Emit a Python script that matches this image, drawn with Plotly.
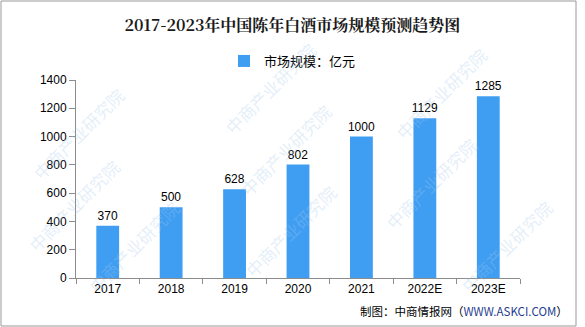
import plotly.graph_objects as go

# Market size of aged baijiu in China (100 million yuan), E = estimate
years = ["2017", "2018", "2019", "2020", "2021", "2022E", "2023E"]
market_size = [370, 500, 628, 802, 1000, 1129, 1285]
y_ticks = [0, 200, 400, 600, 800, 1000, 1200, 1400]

W, H = 585, 327
L, R, T, B = 76, 65, 80, 49
PW, PH = W - L - R, H - T - B

BAR_COLOR = "#409ef2"
AXIS_COLOR = "#8c8c8c"
TICK_FONT = dict(family="Liberation Sans, Arial, sans-serif", size=12, color="#000000")
CJK = "Noto Sans CJK SC, sans-serif"


def px_to_paper(px, py):
    return (px - L) / PW, (H - B - py) / PH


fig = go.Figure()
fig.add_trace(go.Bar(
    x=years,
    y=market_size,
    name="市场规模：亿元",
    marker=dict(color=BAR_COLOR, line=dict(width=0)),
    text=[str(v) for v in market_size],
    textposition="outside",
    constraintext="none",
    textfont=dict(family="Liberation Sans, Arial, sans-serif", size=12, color="#000000"),
    cliponaxis=False,
))

# Background brand marks, drawn diagonally across the canvas
wm_centers = [(270, 35), (495, 40), (25, 80), (285, 150), (485, 130),
              (20, 205), (290, 285), (80, 300), (560, 300)]
annotations = []
for cx, cy in wm_centers:
    xp, yp = px_to_paper(cx, cy)
    annotations.append(dict(
        x=xp, y=yp, xref="paper", yref="paper",
        text="中商产业研究院", showarrow=False, textangle=-45,
        font=dict(family=CJK, size=17, color="rgba(160,200,235,0.30)"),
    ))

# Source line
xp, yp = px_to_paper(570, 311)
annotations.append(dict(
    x=xp, y=yp, xref="paper", yref="paper", xanchor="right", yanchor="middle",
    text="制图：中商情报网（<span style='color:#1f3d8f'>WWW.ASKCI.COM</span>）",
    showarrow=False,
    font=dict(family=CJK, size=11.5, color="#000000"),
))

fig.update_layout(
    width=W, height=H,
    margin=dict(l=L, r=R, t=T, b=B, autoexpand=False),
    paper_bgcolor="#ffffff",
    plot_bgcolor="#ffffff",
    title=dict(
        text="<b>2017-2023年中国陈年白酒市场规模预测趋势图</b>",
        x=0.5, xanchor="center", y=1 - 25 / H, yanchor="middle",
        font=dict(family="Noto Serif CJK SC, " + CJK, size=16, color="#1a1a1a"),
    ),
    showlegend=True,
    legend=dict(
        orientation="h", x=0.5, xref="container", xanchor="center",
        y=1 - 61 / H, yref="container", yanchor="middle",
        font=dict(family=CJK, size=13, color="#000000"),
        itemwidth=30,
    ),
    bargap=0.64,
    xaxis=dict(
        type="category",
        range=[-0.5, 6.5],
        showline=True, linecolor=AXIS_COLOR, linewidth=1,
        ticks="outside", tickson="boundaries", ticklen=5, tickcolor=AXIS_COLOR,
        tickfont=TICK_FONT,
        showgrid=False, zeroline=False, fixedrange=True,
    ),
    yaxis=dict(
        range=[0, 1400],
        tickvals=y_ticks,
        showline=True, linecolor=AXIS_COLOR, linewidth=1,
        ticks="outside", ticklen=6, tickcolor=AXIS_COLOR,
        tickfont=TICK_FONT,
        showgrid=False, zeroline=False, fixedrange=True,
    ),
    annotations=annotations,
    shapes=[dict(
        type="rect", xref="paper", yref="paper",
        x0=px_to_paper(1, 0)[0], x1=px_to_paper(576, 0)[0],
        y0=px_to_paper(0, 326)[1], y1=px_to_paper(0, 1)[1],
        line=dict(color="#999999", width=1), layer="below",
    )],
)

fig.write_html("out.html")
